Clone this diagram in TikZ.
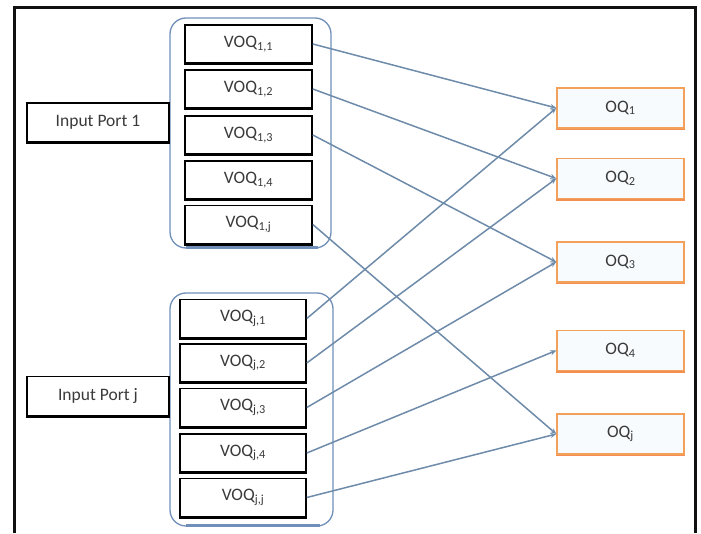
\documentclass[tikz,border=0pt]{standalone}
\usepackage{fontspec}
\setmainfont{Carlito}
\usetikzlibrary{arrows.meta}
\definecolor{framegrey}{HTML}{111111}
\definecolor{groupblue}{HTML}{6F8FB8}
\definecolor{linkblue}{HTML}{6E8BAA}
\definecolor{oqorange}{HTML}{F2A05A}
\definecolor{oqfill}{HTML}{F8FBFE}
\definecolor{txt}{HTML}{3A3A3A}
\tikzset{
  every node/.style={font=\fontsize{17.5}{20}\selectfont, text=txt},
  portbox/.style={draw=black, line width=1.6pt, fill=white, minimum width=142pt, minimum height=39pt, inner sep=0pt},
  voqbox/.style={draw=black, line width=1.6pt, fill=white, minimum width=126pt, minimum height=38pt, inner sep=0pt},
  oqbox/.style={draw=oqorange, line width=1.4pt, fill=oqfill, minimum width=127pt, minimum height=40pt, inner sep=0pt},
  group/.style={draw=groupblue, line width=1.3pt, rounded corners=16pt},
  link/.style={draw=linkblue, line width=1.5pt, -{Stealth[length=6pt,width=5pt]}},
}
\begin{document}
\begin{tikzpicture}[x=1pt,y=1pt]
\useasboundingbox (0,0) rectangle (701,533);
% outer frame (open at the bottom)
\draw[framegrey, line width=3pt] (14,0) -- (14,525) -- (695,525) -- (695,0);

% the two input-port groups
\draw[group] (170,515) rectangle (331,285);
\draw[groupblue, line width=2.6pt] (186,285.5) -- (318,285.5);
\draw[group] (170,240) rectangle (333,7);
\draw[groupblue, line width=2.6pt] (186,7.5) -- (320,7.5);

% input ports
\node[portbox] (in1) at (98,410.5) {Input Port 1};
\node[portbox] (inj) at (98,137) {Input Port j};

% virtual output queues of port 1
\foreach \k/\s/\y in {1/1/489, 2/2/444, 3/3/398, 4/4/353, 5/j/308.5}
  \node[voqbox, minimum width=127pt] (a\k) at (248.5,\y) {VOQ\textsubscript{1,\s}};
% virtual output queues of port j
\foreach \k/\s/\y in {1/1/214.5, 2/2/170, 3/3/125.5, 4/4/80, 5/j/35.5}
  \node[voqbox] (b\k) at (243,\y) {VOQ\textsubscript{j,\s}};

% output queues
\foreach \k/\s/\y in {1/1/425, 2/2/354.5, 3/3/271, 4/4/182.5, 5/j/99}
  \node[oqbox] (o\k) at (620.5,\y) {OQ\textsubscript{\s}};

% heavier lower edges
\foreach \n in {in1,inj,a1,a2,a3,a4,a5,b1,b2,b3,b4,b5}
  \draw[black, line width=1.6pt] ([yshift=-0.6pt]\n.south west) -- ([yshift=-0.6pt]\n.south east);
\foreach \n in {o1,o2,o3,o4,o5}
  \draw[oqorange!90!red, line width=1.5pt] ([yshift=-0.6pt]\n.south west) -- ([yshift=-0.6pt]\n.south east);

% connections from VOQs to output queues
\draw[link] (a1.east) -- (o1.west);
\draw[link] (a2.east) -- (o2.west);
\draw[link] (a3.east) -- (o3.west);
\draw[link] (a5.east) -- (o5.west);
\draw[link] (b1.east) -- (o1.west);
\draw[link] (b2.east) -- (o2.west);
\draw[link] (b3.east) -- (o3.west);
\draw[link] (b4.east) -- (o4.west);
\draw[link] (b5.east) -- (o5.west);
\end{tikzpicture}
\end{document}
